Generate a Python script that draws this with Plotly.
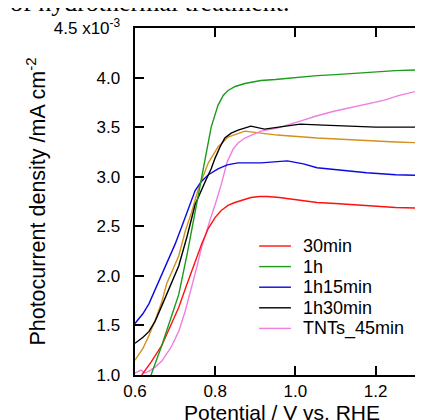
import plotly.graph_objects as go

# ---- data ----
x_30min = [0.617, 0.64, 0.667, 0.69, 0.709, 0.73, 0.75, 0.767, 0.783, 0.80, 0.815, 0.832, 0.849, 0.87, 0.889, 0.91, 0.93, 0.96, 1.0, 1.054, 1.1, 1.178, 1.25, 1.334]
y_30min = [1.00, 1.13, 1.30, 1.50, 1.68, 1.92, 2.15, 2.33, 2.48, 2.59, 2.66, 2.71, 2.74, 2.77, 2.79, 2.80, 2.80, 2.79, 2.77, 2.74, 2.73, 2.71, 2.69, 2.68]

x_1h = [0.64, 0.667, 0.69, 0.709, 0.73, 0.75, 0.765, 0.775, 0.79, 0.807, 0.82, 0.832, 0.85, 0.874, 0.914, 0.95, 1.0, 1.054, 1.1, 1.178, 1.25, 1.334]
y_1h = [1.00, 1.30, 1.58, 1.81, 2.22, 2.66, 2.98, 3.19, 3.50, 3.72, 3.82, 3.87, 3.91, 3.94, 3.97, 3.98, 4.00, 4.02, 4.03, 4.05, 4.07, 4.08]

x_1h15 = [0.6, 0.62, 0.635, 0.65, 0.667, 0.685, 0.70, 0.717, 0.733, 0.75, 0.765, 0.783, 0.807, 0.83, 0.857, 0.914, 0.98, 1.02, 1.054, 1.1, 1.178, 1.25, 1.334]
y_1h15 = [1.52, 1.62, 1.72, 1.86, 2.00, 2.17, 2.32, 2.50, 2.68, 2.86, 2.95, 3.02, 3.08, 3.12, 3.14, 3.14, 3.16, 3.13, 3.09, 3.07, 3.04, 3.02, 3.01]

x_1h30 = [0.6, 0.62, 0.635, 0.65, 0.667, 0.689, 0.709, 0.73, 0.75, 0.775, 0.79, 0.80, 0.812, 0.824, 0.84, 0.857, 0.889, 0.923, 0.955, 1.012, 1.07, 1.136, 1.2, 1.26, 1.334]
y_1h30 = [1.32, 1.38, 1.44, 1.54, 1.70, 1.92, 2.10, 2.40, 2.72, 2.95, 3.08, 3.19, 3.30, 3.39, 3.44, 3.47, 3.51, 3.48, 3.50, 3.53, 3.52, 3.51, 3.50, 3.50, 3.50]

x_orange = [0.6, 0.62, 0.635, 0.65, 0.667, 0.679, 0.709, 0.726, 0.741, 0.758, 0.783, 0.807, 0.832, 0.874, 0.914, 0.955, 1.054, 1.178, 1.25, 1.334]
y_orange = [1.15, 1.27, 1.40, 1.55, 1.74, 1.92, 2.20, 2.46, 2.64, 2.88, 3.14, 3.30, 3.40, 3.46, 3.44, 3.42, 3.39, 3.36, 3.35, 3.34]

x_tnt = [0.6, 0.615, 0.625, 0.635, 0.65, 0.667, 0.69, 0.709, 0.725, 0.741, 0.755, 0.765, 0.778, 0.79, 0.80, 0.815, 0.83, 0.845, 0.857, 0.874, 0.914, 0.955, 1.012, 1.05, 1.096, 1.14, 1.178, 1.22, 1.259, 1.3, 1.334]
y_tnt = [1.02, 1.05, 1.02, 1.04, 1.08, 1.14, 1.28, 1.44, 1.64, 1.88, 2.10, 2.27, 2.45, 2.60, 2.72, 2.92, 3.15, 3.28, 3.34, 3.39, 3.46, 3.49, 3.56, 3.61, 3.66, 3.70, 3.73, 3.77, 3.82, 3.86, 3.91]

y_tickvals = [1.0, 1.5, 2.0, 2.5, 3.0, 3.5, 4.0, 4.5]
y_ticktext = ["1.0", "1.5", "2.0", "2.5", "3.0", "3.5", "4.0", "4.5 x10<sup>-3</sup>"]
x_tickvals = [0.6, 0.8, 1.0, 1.2]
x_ticktext = ["0.6", "0.8", "1.0", "1.2"]

legend_labels = ["30min", "1h", "1h15min", "1h30min", "TNTs_45min"]

series = [
    ("30min", x_30min, y_30min, "#ff1010"),
    ("1h", x_1h, y_1h, "#1c9a1c"),
    ("1h15min", x_1h15, y_1h15, "#0a0ae0"),
    ("1h30min", x_1h30, y_1h30, "#000000"),
    ("TNTs_45min", x_tnt, y_tnt, "#f07ee0"),
    ("orange", x_orange, y_orange, "#d4901c"),
]
draw_order = [5, 4, 2, 0, 3, 1]

FONT = "Liberation Sans, Arial, sans-serif"
PAD = "\u00a0\u00a0"  # gap between y tick labels and the axis

# plot-area geometry (pixels) used to place the hand-built legend
L, T, W, H = 127, 20, 296, 347

fig = go.Figure()
for i in draw_order:
    name, xs, ys, col = series[i]
    fig.add_trace(go.Scatter(x=xs, y=ys, mode="lines", name=name,
                             line=dict(color=col, width=1.4), showlegend=False))

axis_common = dict(showline=True, linewidth=2, linecolor="black", mirror="ticks",
                   ticks="inside", ticklen=9, tickwidth=2, tickcolor="black",
                   showgrid=False, zeroline=False,
                   tickfont=dict(family=FONT, size=17, color="black"))

shapes = []
annotations = [dict(text="of hydrothermal treatment.", xref="paper", yref="paper",
                    x=0, y=1, xanchor="left", yanchor="middle", xshift=-L, yshift=26,
                    showarrow=False,
                    font=dict(family="Liberation Serif, Times New Roman, serif", size=26, color="black"))]
row0, gap = 238, 20.6
for k, lab in enumerate(legend_labels):
    col = series[k][3]
    py = row0 + k * gap
    yp = (T + H - py) / H
    shapes.append(dict(type="line", xref="paper", yref="paper",
                       x0=(252 - L) / W, x1=(284 - L) / W, y0=yp, y1=yp,
                       line=dict(color=col, width=1.4)))
    annotations.append(dict(text=lab, xref="paper", yref="paper", x=(294 - L) / W, y=yp,
                            xanchor="left", yanchor="middle", showarrow=False,
                            font=dict(family=FONT, size=18, color="black")))

fig.update_layout(
    width=423, height=420,
    margin=dict(l=L, r=0, t=T, b=420 - T - H),
    paper_bgcolor="white", plot_bgcolor="white",
    font=dict(family=FONT, color="black"),
    showlegend=False,
    xaxis=dict(range=[0.6, 1.3333], tickvals=x_tickvals, ticktext=x_ticktext,
               title=dict(text="Potential / V vs. RHE", font=dict(size=21), standoff=0),
               **axis_common),
    yaxis=dict(range=[1.0, 4.5], tickvals=y_tickvals, ticktext=[t + PAD for t in y_ticktext],
               title=dict(text="Photocurrent density /mA cm<sup>-2</sup>", font=dict(size=21.5), standoff=2),
               **axis_common),
    shapes=shapes,
    annotations=annotations,
)

fig.write_html("out.html")
